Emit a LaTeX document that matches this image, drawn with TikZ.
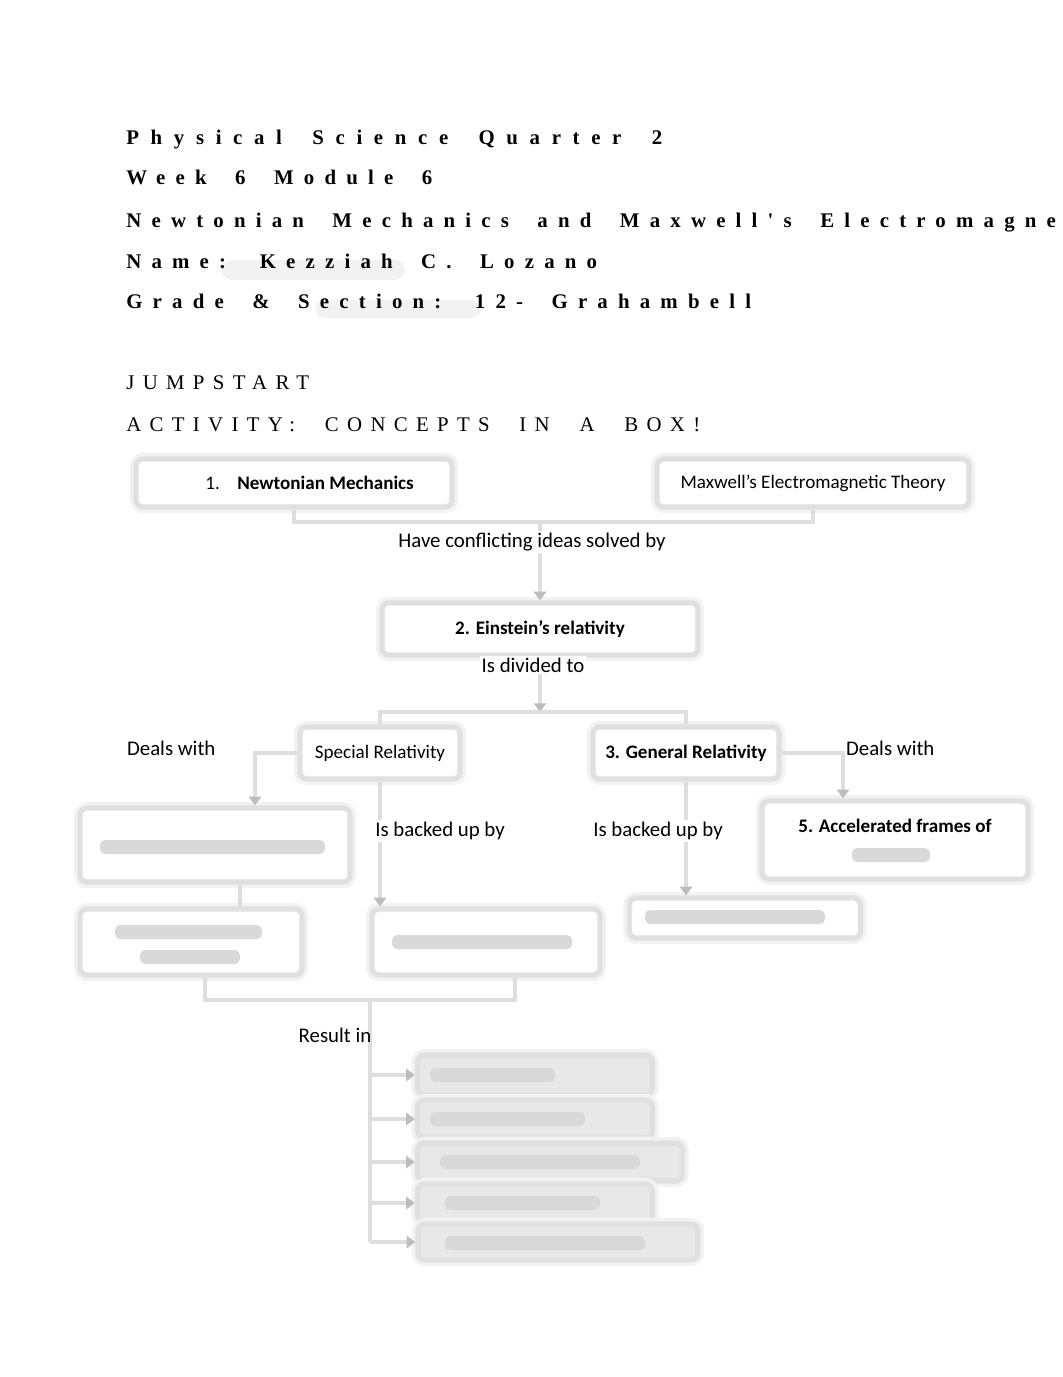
\documentclass[tikz,border=0pt]{standalone}
\usepackage{fontspec}
\setmainfont{Carlito}
\newfontfamily\headfont{Liberation Serif}[LetterSpace=56,WordSpace=1.8]
\newfontfamily\headfontb{Liberation Serif}[LetterSpace=49,WordSpace=1.85]
\newfontfamily\jumpfont{Liberation Serif}[LetterSpace=40,WordSpace=2.2]
\usetikzlibrary{arrows.meta,positioning}
\def\pxu{0.5763pt}
\tikzset{
  headline/.style={font=\headfont\bfseries\fontsize{12}{14}\selectfont,inner sep=0pt,anchor=base west},
  headlineb/.style={headline,font=\headfontb\bfseries\fontsize{12}{14}\selectfont},
  jumpline/.style={font=\jumpfont\fontsize{12}{14}\selectfont,inner sep=0pt,anchor=base west},
  conbox/.style={draw=black!12,line width=3pt,rounded corners=4pt,fill=white,
    preaction={draw=black!5,line width=7pt},align=center,inner sep=0pt},
  listbox/.style={conbox,fill=black!9},
  link/.style={draw=black!13,line width=2.3pt},
  tip/.style={-{Triangle[length=5pt,width=7pt,color=black!26]}},
  smudge/.style={fill=black!15,rounded corners=3pt},
  lbl/.style={font=\fontsize{12}{14}\selectfont,inner sep=1pt},
  lblw/.style={lbl,fill=white}
}
\begin{document}
\begin{tikzpicture}[x=0.5763pt,y=-0.5763pt,every node/.style={font=\fontsize{11}{13}\selectfont}]
\useasboundingbox[fill=white] (0,0) rectangle (1062,1377);

% heading lines
\fill[black!5,rounded corners=6pt] (222,260) rectangle (405,280);
\fill[black!5,rounded corners=6pt] (315,300) rectangle (482,318);
\node[headline] (hd1) at (126,145) {Physical Science Quarter 2};
\node[headlineb] (hd2) at (126,185) {Week 6 Module 6};
\node[headlineb] (hd3) at (126,227) {Newtonian Mechanics and Maxwell's Electromagnetic Theory};
\node[headlineb] (hd4) at (126,268) {Name: Kezziah C. Lozano};
\node[headlineb] (hd5) at (126,308) {Grade \& Section: 12- Grahambell};
\node[jumpline] (jump) at (126,389) {JUMPSTART};
\node[jumpline] (act) at (126,431) {ACTIVITY: CONCEPTS IN A BOX!};

% concept boxes
\node[conbox,minimum width=316*\pxu,minimum height=48*\pxu] (newton) at (294,483)
  {\hspace*{18pt}1.\hspace{10pt}\textbf{Newtonian Mechanics}};
\node[conbox,minimum width=312*\pxu,minimum height=48*\pxu] (maxwell) at (813,483)
  {Maxwell’s Electromagnetic Theory};
\node[conbox,minimum width=316*\pxu,minimum height=52*\pxu] (einstein) at (540,629)
  {\textbf{2. Einstein’s relativity}};
\node[conbox,minimum width=160*\pxu,minimum height=52*\pxu] (special) at (380,753)
  {Special Relativity};
\node[conbox,minimum width=186*\pxu,minimum height=52*\pxu] (general) at (686,753)
  {\textbf{3. General Relativity}};
\node[conbox,minimum width=270*\pxu,minimum height=74*\pxu] (spatial) at (215,845) {};
\node[conbox,minimum width=266*\pxu,minimum height=78*\pxu] (accel) at (895,840)
  {\textbf{5. Accelerated frames of}\\[3pt] \mbox{}};
\node[conbox,minimum width=222*\pxu,minimum height=66*\pxu] (simul) at (191,942) {};
\node[conbox,minimum width=228*\pxu,minimum height=66*\pxu] (princrel) at (486,942) {};
\node[conbox,minimum width=231*\pxu,minimum height=40*\pxu] (equiv) at (745,918) {};

% result boxes
\node[listbox,minimum width=235*\pxu,minimum height=40*\pxu] (res1) at (535,1075) {};
\node[listbox,minimum width=235*\pxu,minimum height=38*\pxu] (res2) at (535,1119) {};
\node[listbox,minimum width=265*\pxu,minimum height=38*\pxu] (res3) at (550,1162) {};
\node[listbox,minimum width=235*\pxu,minimum height=38*\pxu] (res4) at (535,1203) {};
\node[listbox,minimum width=280*\pxu,minimum height=36*\pxu] (res5) at (558,1242) {};

% blurred texts
\fill[smudge] (100,840) rectangle (325,854);
\fill[smudge] (852,848) rectangle (930,862);
\fill[smudge] (115,925) rectangle (262,939);
\fill[smudge] (140,950) rectangle (240,964);
\fill[smudge] (392,935) rectangle (572,949);
\fill[smudge] (645,910) rectangle (825,924);
\fill[smudge] (430,1068) rectangle (555,1082);
\fill[smudge] (430,1112) rectangle (585,1126);
\fill[smudge] (440,1155) rectangle (640,1169);
\fill[smudge] (445,1196) rectangle (600,1210);
\fill[smudge] (445,1236) rectangle (645,1250);

% connectors
\coordinate (jn1) at (einstein.north |- 0,522);
\coordinate (jn2) at (einstein.south |- 0,712);
\coordinate (jn3) at (370,1000);
\draw[link] (newton.south) |- (jn1) -| (maxwell.south);
\draw[link,tip] (jn1) -- (einstein.north);
\draw[link,tip] (einstein.south) -- (jn2);
\draw[link] (special.north) |- (jn2) -| (general.north);
\draw[link,tip] (special.west) -| ([xshift=40*\pxu]spatial.north);
\draw[link,tip] (general.east) -| ([xshift=-52*\pxu]accel.north);
\draw[link,tip] (special.south) -- (special.south |- princrel.north);
\draw[link,tip] (general.south) -- (general.south |- equiv.north);
\draw[link] (spatial.south -| 240,0) -- (simul.north -| 240,0);
\draw[link] ([xshift=14*\pxu]simul.south) |- (jn3) -| ([xshift=29*\pxu]princrel.south);
\draw[link] (jn3) -- (jn3 |- res5.west);
\foreach \r in {res1,res2,res3,res4,res5}
  \draw[link,tip] (jn3 |- \r.west) -- (\r.west);

% link labels
\node[lblw] (lbconf) at (532,542) {Have conflicting ideas solved by};
\node[lblw] (lbdiv) at (533,665) {Is divided to};
\node[lbl,anchor=west] (lbdeal1) at (125,748) {Deals with};
\node[lbl,anchor=west] (lbdeal2) at (844,748) {Deals with};
\node[lblw] (lbback1) at (440,831) {Is backed up by};
\node[lblw] (lbback2) at (658,831) {Is backed up by};
\node[lbl] (lbres) at (335,1035) {Result in};
\end{tikzpicture}
\end{document}
